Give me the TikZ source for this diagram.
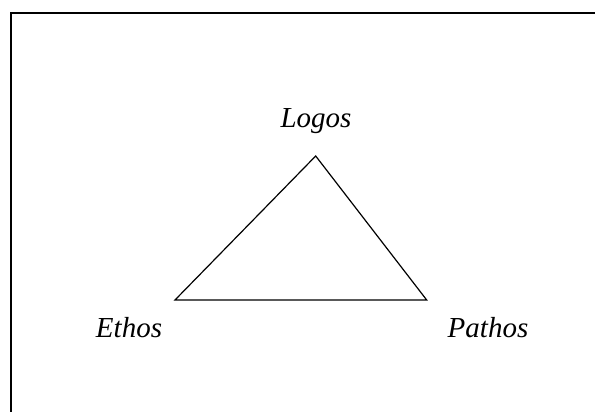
\documentclass[tikz,border=0pt]{standalone}
\usepackage{fontspec}
\setmainfont{Liberation Serif}
\begin{document}
\begin{tikzpicture}[x=1pt,y=-1pt,
  lbl/.style={anchor=base,inner sep=0pt,font=\fontsize{29}{33}\selectfont\itshape},
  edge/.style={line width=1.2pt,line join=miter},
  frame/.style={line width=2pt}]
\useasboundingbox (0,0) rectangle (595,412);
\coordinate (tl) at (11,13.5);
\coordinate (tr) at (596,13.5);
\coordinate (bl) at (11,413);
\draw[frame] (tr) -- (tl) -- (bl);
\coordinate (L) at (315.7,156);
\coordinate (E) at (175,300);
\coordinate (P) at (426.7,300);
\draw[edge] (L) -- (P) -- (E) -- cycle;
\node[lbl] (logos) at (316,127.5) {Logos};
\node[lbl] (ethos) at (129,337.3) {Ethos};
\node[lbl] (pathos) at (488,337.3) {Pathos};
\end{tikzpicture}
\end{document}
